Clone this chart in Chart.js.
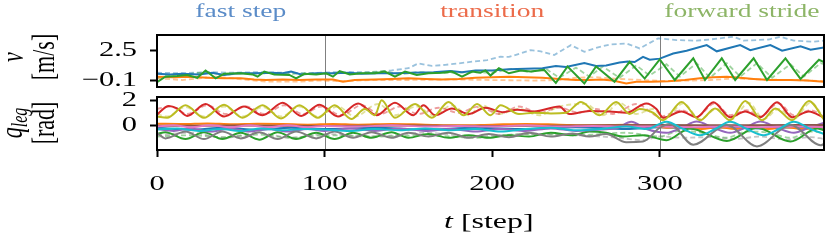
<!DOCTYPE html>
<html>
<head>
<meta charset="utf-8">
<script src="https://cdn.jsdelivr.net/npm/chart.js@4.4.1/dist/chart.umd.min.js"></script>
<style>
  html, body { margin: 0; padding: 0; background: #fff; }
  #wrap { position: relative; width: 830px; height: 243px; }
  #wrap canvas { position: absolute; left: 0; top: 0; }
</style>
</head>
<body>
<div id="wrap">
  <canvas id="speed" width="830" height="243"></canvas>
  <canvas id="joints" width="830" height="243"></canvas>
</div>
<script>
// phases of the run
const phaseNames = ["fast step", "transition", "forward stride"];
const phaseSpans = [[0, 100], [100, 300], [300, 398]];
const phaseSwitch = [100, 300];

// axes
const tRange = [0, 398];
const tTicks = [0, 100, 200, 300];
const vRange = [-0.72, 3.9];
const vTicks = [-0.1, 2.5];
const qRange = [-1.98, 2.26];
const qTicks = [0, 2];

// v [m/s], [step, value]
const vBlue = [[0,0.45],[8,0.4],[15,0.45],[25,0.4],[33,0.55],[40,0.35],[48,0.5],[58,0.5],[68,0.55],[75,0.5],[80,0.65],[86,0.4],[95,0.5],[105,0.5],[115,0.55],[122,0.45],[132,0.5],[142,0.5],[152,0.55],[165,0.6],[175,0.7],[182,0.6],[190,0.75],[200,0.75],[210,0.85],[220,0.9],[230,0.95],[238,1.15],[244,1.05],[255,1.4],[262,1.15],[268,1.2],[276,1.45],[281,1.55],[285,1.5],[290,1.95],[294,1.7],[300,1.8],[308,2.25],[316,2.5],[328,3.0],[334,2.45],[348,3.0],[354,2.55],[366,3.0],[373,2.5],[384,2.9],[390,2.6],[398,2.8]];
const vOrange = [[0,0.2],[10,0.15],[20,0.2],[30,0.1],[40,0.05],[50,0.05],[58,-0.05],[65,-0.1],[75,-0.05],[85,-0.1],[95,-0.05],[105,-0.05],[111,-0.25],[118,-0.1],[130,-0.05],[140,0.0],[150,0.05],[160,0.0],[170,-0.05],[180,0.0],[190,0.1],[200,0.15],[210,0.2],[220,0.15],[230,0.1],[240,0.0],[250,-0.1],[258,-0.1],[265,-0.05],[272,-0.15],[280,-0.4],[286,-0.25],[295,-0.25],[305,-0.2],[315,-0.1],[324,0.05],[332,0.15],[340,0.2],[348,0.1],[356,0.0],[366,-0.1],[378,-0.1],[388,-0.15],[398,-0.25]];
const vGreen = [[0,-0.3],[5,0.2],[12,0.25],[18,0.35],[24,0.1],[29,0.75],[35,0.05],[40,0.45],[50,0.5],[57,0.4],[60,0.2],[64,0.65],[70,0.4],[79,0.35],[83,0.05],[88,0.45],[95,0.4],[101,0.5],[105,0.2],[109,0.7],[115,0.4],[122,0.5],[130,0.5],[136,0.65],[142,0.2],[148,0.65],[155,0.35],[162,0.5],[170,0.55],[176,0.65],[182,0.2],[188,0.65],[193,0.55],[196,0.75],[199,0.3],[204,0.95],[210,0.5],[217,0.75],[223,0.65],[231,0.8],[238,-0.35],[245,1.1],[255,-0.4],[262,1.1],[273,-0.25],[282,1.52],[291,0.03],[300,1.74],[309,-0.1],[320,1.83],[327,-0.1],[337,1.83],[345,-0.1],[356,1.83],[364,-0.1],[375,1.83],[384,0.0],[395,1.7],[398,1.5]];
const vBlueRef = [[0,0.55],[15,0.5],[30,0.6],[45,0.55],[60,0.6],[75,0.55],[90,0.5],[105,0.6],[120,0.6],[130,0.6],[140,0.75],[150,0.95],[156,1.38],[164,1.15],[172,1.25],[180,1.38],[188,1.53],[197,1.67],[205,1.97],[210,1.95],[217,2.27],[223,2.56],[229,2.45],[237,2.12],[247,3.0],[255,2.41],[262,2.75],[270,3.05],[280,3.15],[288,2.71],[299,3.6],[310,3.45],[322,3.4],[330,3.5],[344,3.75],[350,3.4],[365,3.5],[372,3.75],[380,3.4],[392,3.3],[398,3.4]];
const vOrangeRef = [[0,0.05],[15,-0.1],[35,0.2],[55,-0.1],[65,-0.25],[85,-0.25],[95,-0.15],[110,-0.2],[130,-0.1],[150,-0.1],[175,-0.05],[200,-0.1],[225,-0.15],[240,-0.1],[250,0.1],[262,0.15],[275,0.0],[290,-0.1],[305,-0.2],[330,-0.1],[345,0.05],[360,-0.05],[380,-0.1],[398,-0.2]];
const vGreenRef = [[0,0.1],[10,0.4],[20,0.45],[30,0.6],[40,0.35],[50,0.5],[60,0.45],[70,0.55],[80,0.45],[90,0.5],[100,0.45],[110,0.55],[120,0.5],[135,0.7],[145,0.4],[155,0.6],[170,0.5],[185,0.6],[200,0.55],[212,0.9],[222,0.6],[232,0.9],[240,0.1],[250,1.0],[258,0.2],[266,1.1],[276,0.1],[286,1.2],[294,0.3],[304,1.3],[312,0.2],[322,1.4],[330,0.1],[340,1.4],[348,0.2],[358,1.4],[367,0.1],[378,1.3],[386,0.2],[396,1.4],[398,1.3]];

// q_leg [rad], [step, value]
const qRed = [[0,0.85],[7,1.55],[12,1.35],[18,0.75],[29,1.7],[40,0.7],[52,1.5],[63,0.8],[75,1.8],[86,0.75],[97,1.65],[108,0.7],[120,1.75],[131,0.8],[142,1.8],[153,0.8],[159,1.6],[166,0.8],[176,1.35],[186,0.9],[196,1.4],[206,1.05],[215,1.25],[225,1.1],[240,1.5],[246,0.9],[258,1.15],[270,1.1],[280,1.0],[292,1.75],[298,1.3],[302,0.6],[313,1.1],[322,0.65],[332,1.85],[342,0.65],[351,1.1],[360,0.65],[370,1.85],[379,0.65],[389,1.1],[398,0.6]];
const qOlive = [[0,0.7],[6,0.6],[17,1.6],[28,0.6],[40,1.65],[51,0.6],[63,1.6],[74,0.55],[85,1.6],[96,0.6],[106,1.6],[116,0.5],[124,1.3],[130,0.8],[134,2.0],[142,0.6],[154,1.7],[164,0.6],[174,1.87],[183,0.8],[191,1.7],[199,0.8],[205,1.6],[216,0.9],[225,1.0],[235,0.95],[244,1.0],[253,1.87],[264,0.8],[274,1.87],[282,0.9],[288,1.3],[296,1.0],[302,0.4],[313,1.87],[324,0.4],[333,1.35],[342,0.4],[351,1.95],[361,0.4],[369,1.35],[379,0.4],[389,1.95],[398,0.45]];
const qOrange = [[0,0.12],[15,0.1],[30,0.15],[45,0.08],[60,0.12],[75,0.1],[90,0.05],[105,0.1],[120,0.05],[140,0.1],[160,0.05],[180,0.0],[200,0.05],[220,0.1],[240,0.05],[260,0.0],[280,0.05],[295,-0.05],[305,-0.2],[315,-0.1],[325,-0.3],[335,-0.15],[345,-0.3],[355,-0.1],[365,-0.3],[375,-0.15],[385,-0.3],[398,-0.15]];
const qPink = [[0,-0.1],[10,0.0],[20,-0.15],[32,0.0],[44,-0.15],[55,0.0],[66,-0.15],[78,0.0],[90,-0.15],[100,-0.05],[120,-0.1],[140,0.0],[160,-0.1],[180,-0.05],[200,-0.1],[220,0.0],[240,-0.1],[260,-0.05],[280,-0.1],[300,-0.1],[320,-0.15],[340,-0.1],[360,-0.15],[380,-0.1],[398,-0.15]];
const qBrown = [[0,-0.05],[50,-0.02],[100,-0.05],[150,-0.02],[200,-0.05],[250,-0.02],[300,0.02],[350,0.0],[398,0.02]];
const qPurple = [[0,-0.3],[10,-0.45],[20,-0.25],[32,-0.5],[44,-0.25],[55,-0.5],[66,-0.3],[78,-0.5],[90,-0.3],[100,-0.45],[115,-0.25],[130,-0.45],[145,-0.25],[160,-0.45],[175,-0.3],[190,-0.5],[205,-0.3],[220,-0.45],[235,-0.25],[250,-0.45],[265,-0.35],[275,-0.2],[283,0.28],[292,-0.3],[304,-0.6],[313,-0.2],[322,0.29],[332,-0.2],[342,-0.6],[351,-0.2],[360,0.29],[370,-0.2],[380,-0.6],[389,-0.2],[398,0.2]];
const qCyan = [[0,-0.35],[12,-0.25],[25,-0.45],[38,-0.3],[50,-0.45],[62,-0.25],[75,-0.4],[88,-0.3],[100,-0.35],[115,-0.45],[130,-0.3],[145,-0.4],[160,-0.25],[175,-0.4],[190,-0.3],[205,-0.5],[220,-0.3],[235,-0.2],[250,-0.4],[265,-0.3],[280,-0.1],[292,-0.3],[304,0.29],[314,-0.3],[324,-0.8],[333,-0.3],[342,0.29],[352,-0.3],[362,-0.8],[371,-0.3],[380,0.29],[390,-0.3],[398,-0.7]];
const qGray = [[0,-0.6],[5,-1.05],[17,-0.5],[28,-1.1],[39,-0.5],[50,-1.05],[61,-0.55],[72,-1.1],[83,-0.5],[95,-1.05],[106,-0.5],[117,-1.0],[128,-0.55],[140,-1.0],[150,-0.6],[162,-0.9],[174,-0.6],[186,-1.0],[198,-0.7],[210,-0.95],[222,-0.6],[235,-0.9],[248,-0.65],[258,-0.9],[268,-0.7],[280,-1.35],[290,-1.3],[300,-0.2],[306,0.1],[320,-1.56],[340,0.03],[358,-1.69],[378,0.03],[396,-1.6],[398,-1.5]];
const qGreen = [[0,-0.7],[5,-0.55],[17,-1.1],[28,-0.55],[39,-1.1],[50,-0.6],[61,-1.15],[72,-0.55],[83,-1.1],[95,-0.6],[106,-1.1],[117,-0.6],[128,-1.0],[140,-0.55],[150,-1.0],[162,-0.7],[174,-1.0],[186,-0.8],[198,-1.0],[210,-0.8],[222,-0.9],[235,-0.6],[248,-0.8],[258,-0.5],[268,-0.6],[278,-0.9],[290,-0.8],[300,-1.1],[304,-1.2],[318,-0.25],[340,-1.25],[358,-0.2],[378,-1.3],[394,-0.25],[398,-0.4]];
const qBlue = [[0,-0.2],[20,-0.35],[40,-0.2],[60,-0.35],[80,-0.2],[100,-0.3],[130,-0.2],[160,-0.35],[190,-0.2],[220,-0.3],[250,-0.15],[280,-0.3],[300,-0.15],[320,-0.25],[340,-0.15],[360,-0.25],[380,-0.15],[398,-0.2]];
const qRedRef = [[0,1.3],[8,1.5],[18,0.9],[30,1.6],[41,0.9],[53,1.5],[64,0.9],[76,1.6],[87,0.9],[98,1.5],[110,0.8],[122,1.6],[133,0.9],[145,1.5],[156,0.9],[168,1.4],[180,1.0],[192,1.5],[204,0.9],[216,1.5],[228,1.0],[240,1.4],[252,1.0],[262,1.3],[272,0.9],[286,1.7],[300,0.7],[313,1.2],[322,0.7],[333,1.75],[342,0.8],[352,1.2],[360,0.7],[371,1.75],[380,0.8],[390,1.2],[398,0.7]];
const qOliveRef = [[0,0.9],[6,0.7],[17,1.45],[28,0.7],[40,1.5],[51,0.7],[63,1.45],[74,0.7],[85,1.5],[96,0.7],[108,1.5],[118,0.7],[132,1.7],[142,0.8],[155,1.5],[165,0.8],[176,1.6],[186,0.8],[194,1.6],[204,0.9],[216,1.3],[228,0.8],[240,1.5],[256,1.7],[266,0.8],[276,1.8],[286,0.9],[296,1.3],[303,0.5],[314,1.75],[324,0.5],[334,1.3],[343,0.5],[353,1.8],[362,0.5],[371,1.3],[380,0.5],[390,1.8],[398,0.6]];
const qGrayRef = [[0,-0.8],[20,-0.6],[40,-1.0],[60,-0.6],[80,-1.0],[100,-0.7],[130,-0.9],[160,-0.6],[190,-0.9],[220,-0.7],[250,-0.8],[275,-1.0],[290,-1.2],[300,-0.9],[315,-1.0],[330,-0.95],[345,-1.1],[360,-0.9],[375,-1.15],[390,-0.95],[398,-1.1]];
const qGreenRef = [[0,-0.9],[20,-0.8],[40,-0.95],[60,-0.75],[80,-1.0],[100,-0.8],[130,-0.9],[160,-0.8],[190,-1.0],[220,-0.7],[250,-0.8],[280,-0.6],[300,-0.9],[312,-0.45],[325,-0.6],[340,-1.0],[352,-0.5],[365,-0.6],[378,-1.0],[390,-0.5],[398,-0.6]];

const tab = {
  blue: "31,119,180", orange: "255,127,14", green: "44,160,44", red: "214,39,40",
  purple: "148,103,189", brown: "140,86,75", pink: "227,119,194", gray: "127,127,127",
  olive: "188,189,34", cyan: "23,190,207",
};
const phaseColors = ["#5b8cc8", "#ec6b4a", "#8db567"];

const SERIF = '"Liberation Serif", "Times New Roman", serif';
const SX = 1.45; // the figure text is stretched sideways

function line(data, color, dashed, smooth) {
  return {
    data: data.map(([x, y]) => ({ x, y })),
    borderColor: dashed ? `rgba(${tab[color]},0.45)` : `rgb(${tab[color]})`,
    borderWidth: dashed ? 1.8 : 2,
    borderDash: dashed ? [5, 3] : [],
    pointRadius: 0,
    tension: smooth ? 0.4 : 0,
    cubicInterpolationMode: smooth ? "monotone" : "default",
    fill: false,
  };
}

// runs: [{s, font, dy}] drawn as one string, centred or right aligned
function runs(ctx, parts, x, y, { align = "center", rotate = false, color = "#000" } = {}) {
  ctx.save();
  let w = 0;
  parts.forEach((p) => { ctx.font = p.font; p.w = ctx.measureText(p.s).width; w += p.w; });
  ctx.translate(x, y);
  ctx.scale(SX, 1);
  if (rotate) ctx.rotate(-Math.PI / 2);
  ctx.fillStyle = color;
  ctx.textBaseline = "middle";
  ctx.textAlign = "left";
  let cx = align === "center" ? -w / 2 : align === "right" ? -w : 0;
  parts.forEach((p) => { ctx.font = p.font; ctx.fillText(p.s, cx, p.dy || 0); cx += p.w; });
  ctx.restore();
}

const tickFont = `21px ${SERIF}`;
const labFont = `22px ${SERIF}`;
const itFont = `italic 22px ${SERIF}`;
const subFont = `italic 16px ${SERIF}`;
const fmt = (v) => String(v).replace("-", "\u2212");

function decor(drawText) {
  return {
    id: "decor",
    beforeDatasetsDraw(chart) {
      const { ctx, chartArea: a, scales: { x } } = chart;
      ctx.save();
      ctx.strokeStyle = "#808080";
      ctx.lineWidth = 1;
      phaseSwitch.forEach((t) => {
        const px = Math.round(x.getPixelForValue(t)) + 0.5;
        ctx.beginPath(); ctx.moveTo(px, a.top); ctx.lineTo(px, a.bottom); ctx.stroke();
      });
      ctx.restore();
    },
    afterDraw(chart) {
      const { ctx, chartArea: a } = chart;
      ctx.save();
      ctx.strokeStyle = "#000";
      ctx.lineWidth = 2;
      ctx.strokeRect(a.left, a.top, a.right - a.left, a.bottom - a.top);
      ctx.restore();
      drawText(chart);
    },
  };
}

function axis(range, ticks, extra) {
  return Object.assign({
    type: "linear",
    min: range[0],
    max: range[1],
    afterBuildTicks: (s) => { s.ticks = ticks.map((value) => ({ value })); },
    ticks: { display: false },
    grid: { drawOnChartArea: false, drawTicks: true, tickLength: 7, tickWidth: 2, tickColor: "#000" },
    border: { display: false },
  }, extra);
}

const common = {
  type: "line",
  options: {
    responsive: false,
    animation: false,
    devicePixelRatio: 1,
    plugins: { legend: { display: false }, tooltip: { enabled: false } },
  },
};

new Chart(document.getElementById("speed"), {
  ...common,
  data: {
    datasets: [
      line(vGreen, "green"), line(vOrange, "orange"), line(vBlue, "blue"),
      line(vGreenRef, "green", true), line(vOrangeRef, "orange", true), line(vBlueRef, "blue", true),
    ],
  },
  options: {
    ...common.options,
    layout: { padding: { left: 0, top: 35, right: 6, bottom: 156 } },
    scales: {
      x: axis(tRange, [], { grid: { display: false }, afterFit: (s) => { s.height = 0; } }),
      y: axis(vRange, vTicks, { afterFit: (s) => { s.width = 157; } }),
    },
  },
  plugins: [decor((chart) => {
    const { ctx, scales: { x, y } } = chart;
    phaseNames.forEach((name, i) => {
      const mid = (x.getPixelForValue(phaseSpans[i][0]) + x.getPixelForValue(phaseSpans[i][1])) / 2;
      runs(ctx, [{ s: name, font: `19px ${SERIF}` }], mid, 12, { color: phaseColors[i] });
    });
    vTicks.forEach((v) => runs(ctx, [{ s: fmt(v), font: tickFont }], 137, y.getPixelForValue(v), { align: "right" }));
    runs(ctx, [{ s: "v", font: itFont }], 15, 57, { rotate: true });
    runs(ctx, [{ s: "[m/s]", font: labFont }], 46, 57, { rotate: true });
  })],
});

new Chart(document.getElementById("joints"), {
  ...common,
  data: {
    datasets: [
      line(qCyan, "cyan", false, true), line(qOlive, "olive", false, true), line(qGray, "gray", false, true),
      line(qPink, "pink", false, true), line(qBrown, "brown", false, true), line(qPurple, "purple", false, true),
      line(qRed, "red", false, true), line(qGreen, "green", false, true), line(qOrange, "orange", false, true),
      line(qBlue, "blue", false, true),
      line(qRedRef, "red", true, true), line(qOliveRef, "olive", true, true),
      line(qGrayRef, "gray", true, true), line(qGreenRef, "green", true, true),
    ],
  },
  options: {
    ...common.options,
    layout: { padding: { left: 0, top: 97, right: 6, bottom: 0 } },
    scales: {
      x: axis(tRange, tTicks, { afterFit: (s) => { s.height = 93; } }),
      y: axis(qRange, qTicks, { afterFit: (s) => { s.width = 157; } }),
    },
  },
  plugins: [decor((chart) => {
    const { ctx, scales: { x, y } } = chart;
    qTicks.forEach((v) => runs(ctx, [{ s: fmt(v), font: tickFont }], 137, y.getPixelForValue(v), { align: "right" }));
    tTicks.forEach((t) => runs(ctx, [{ s: fmt(t), font: tickFont }], x.getPixelForValue(t), 184));
    runs(ctx, [{ s: "t", font: itFont }, { s: " [step]", font: labFont }], x.getPixelForValue(198), 222);
    runs(ctx, [{ s: "q", font: itFont }, { s: "leg", font: subFont, dy: 5 }], 14, 123, { rotate: true });
    runs(ctx, [{ s: "[rad]", font: labFont }], 46, 123, { rotate: true });
  })],
});
</script>
</body>
</html>
